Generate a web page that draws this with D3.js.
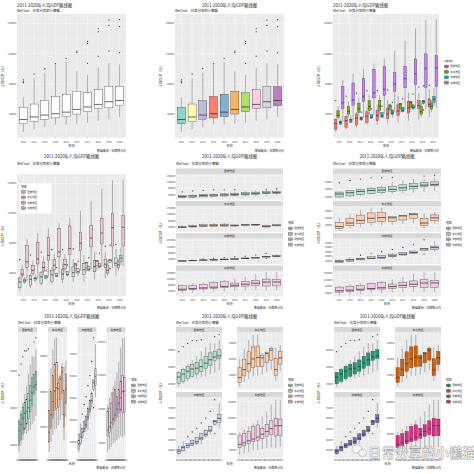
<!DOCTYPE html>
<html><head><meta charset="utf-8">
<script src="https://cdn.jsdelivr.net/npm/d3@7"></script>
<style>html,body{margin:0;padding:0;background:#fff}svg{display:block}text{font-family:"Noto Sans CJK SC","Noto Sans",sans-serif}</style>
</head><body><svg id="c" width="474" height="474"></svg>
<script>
// ---------------- data ----------------
const years = ["2011","2012","2013","2014","2015","2016","2017","2018","2019","2020"];
const regions = ["西部地区","东北地区","中部地区","东部地区"];
const provinces = ["北京","天津","河北","山西","内蒙古","辽宁","吉林","黑龙江","上海","江苏","浙江","安徽","福建","江西","山东","河南","湖北","湖南","广东","广西","海南","重庆","四川","贵州","云南","西藏","陕西","甘肃","青海","宁夏","新疆"];
const provinceRegion = ["东部地区","东部地区","东部地区","中部地区","西部地区","东北地区","东北地区","东北地区","东部地区","东部地区","东部地区","中部地区","东部地区","中部地区","东部地区","中部地区","中部地区","中部地区","东部地区","西部地区","东部地区","西部地区","西部地区","西部地区","西部地区","西部地区","西部地区","西部地区","西部地区","西部地区","西部地区"];
// per-capita GDP (yuan), province order as above
const gdp2011 = [81658,85213,33969,31357,57974,50760,38460,32819,82560,62290,59249,25659,47377,26150,47335,28661,34197,29880,50807,25326,28898,34500,26133,16413,19265,20077,33464,19595,29522,33043,30087];
const gdp2012 = [87475,93173,36584,33628,63886,56649,43415,35711,85373,68347,63374,28792,52763,28800,51768,31499,38572,33480,54095,27952,32377,38914,29608,19710,22195,22936,38564,21978,33181,36394,33796];
const gdp2013 = [94648,100105,38909,34984,67836,61996,47191,37697,90993,75354,68805,31684,57856,31771,56323,34211,42826,36763,58540,30588,35317,42795,32617,22922,25083,26068,42692,24296,36875,39613,37553];
const gdp2014 = [106700,105231,39984,35070,71046,65201,50160,39226,104900,81874,73002,34425,63472,34674,60879,37072,47145,40271,63469,33090,38924,47850,35128,26437,27264,29252,46929,26433,39671,41834,40648];
const gdp2015 = [113700,107960,40255,34919,71101,65354,51086,39462,109200,87995,77644,35997,67966,36724,64168,39123,50654,42754,67503,35190,40818,52321,36775,29847,28806,31999,47626,26165,41252,43805,40036];
const gdp2016 = [123400,88000,43062,35532,72064,50791,53868,40432,121400,96887,84916,39561,74707,40400,68733,42575,55665,46382,74016,38027,44347,58502,40003,33246,31093,35184,51015,27643,43531,47194,40564];
const gdp2017 = [136200,91000,45387,42060,63764,53527,54838,41916,133500,107150,92057,43401,82677,43424,72807,46674,60199,49558,80932,38102,48430,63442,44651,37956,34221,39267,57266,28497,44047,50765,44941];
const gdp2018 = [153095,95689,47772,45328,68302,58008,55611,43274,148744,116650,101813,47712,91197,47434,76267,50152,66616,52949,86412,41489,51955,65933,48883,41244,37136,43398,63477,31336,47689,54094,49475];
const gdp2019 = [164220,90371,46348,45724,67852,57191,43475,36183,157279,123607,107624,58496,107139,53164,70653,56388,77387,57540,94172,42964,56507,75828,55774,46433,47944,48902,66649,32995,48981,54217,54280];
const gdp2020 = [164889,101614,48564,50528,72062,58872,50800,42635,155768,121231,100620,63426,105818,56871,72151,55435,74440,62900,88210,44309,55131,78170,58126,46267,51975,52345,66292,35995,50819,54528,53593];
const gdpByYear = [gdp2011,gdp2012,gdp2013,gdp2014,gdp2015,gdp2016,gdp2017,gdp2018,gdp2019,gdp2020];

const titleText = "2011-2020年人均GDP箱线图";
const subtitleText = "WeChat：日常分享的小懒猫";
const yTitleText = "人均GDP（元）";
const xTitleText = "年份";
const captionText = "数据来源：国家统计局";
const watermarkText = "日常分享的小懒猫";

const set3 = ["#8DD3C7","#FFFFB3","#BEBADA","#FB8072","#80B1D3","#FDB462","#B3DE69","#FCCDE5","#D9D9D9","#BC80BD"];
const hue4 = ["#F8766D","#7CAE00","#00BFC4","#C77CFF"];
const soft4 = ["#C9E2CD","#F2C6C2","#CED4E4","#EAC6DB"];
const pastel2 = ["#B3E2CD","#FDCDAC","#CBD5E8","#F4CAE4"];
const dark2 = ["#1B9E77","#D95F02","#7570B3","#E7298A"];

// ---------------- helpers ----------------
const rows = [];
years.forEach((yr, yi) => provinces.forEach((p, pi) => rows.push({year: yr, province: p, region: provinceRegion[pi], value: gdpByYear[yi][pi]})));

function boxStats(vals) {
  const s = vals.slice().sort((a, b) => a - b);
  const q1 = d3.quantileSorted(s, 0.25), med = d3.quantileSorted(s, 0.5), q3 = d3.quantileSorted(s, 0.75);
  const iqr = q3 - q1, lo = q1 - 1.5 * iqr, hi = q3 + 1.5 * iqr;
  const inside = s.filter(v => v >= lo && v <= hi);
  return {q1, med, q3, wlo: d3.min(inside), whi: d3.max(inside), out: s.filter(v => v < lo || v > hi)};
}

function extendedBreaks(dmin, dmax, m = 5) {
  const Q = [1, 5, 2, 2.5, 4, 3], w = [0.25, 0.2, 0.5, 0.05], n = Q.length, eps = 1e-10;
  let best = {score: -2};
  const simp = (i, j, lmin, lmax, lstep) => { const r = ((lmin % lstep) + lstep) % lstep; const v = ((r < eps * lstep || lstep - r < eps * lstep) && lmin <= 0 && lmax >= 0) ? 1 : 0; return 1 - i / (n - 1) - j + v; };
  const simpMax = (i, j) => 2 - i / (n - 1) - j;
  const cov = (lmin, lmax) => { const r = dmax - dmin; return 1 - 0.5 * ((dmax - lmax) ** 2 + (dmin - lmin) ** 2) / ((0.1 * r) ** 2); };
  const covMax = span => { const r = dmax - dmin; if (span > r) { const h = (span - r) / 2; return 1 - 0.5 * (2 * h * h) / ((0.1 * r) ** 2); } return 1; };
  const dens = (k, lmin, lmax) => { const r = (k - 1) / (lmax - lmin); const rt = (m - 1) / (Math.max(lmax, dmax) - Math.min(dmin, lmin)); return 2 - Math.max(r / rt, rt / r); };
  const densMax = k => k >= m ? 2 - (k - 1) / (m - 1) : 1;
  let j = 1;
  outer: while (j < 30) {
    for (let i = 0; i < n; i++) {
      const q = Q[i], sm = simpMax(i, j);
      if (w[0] * sm + w[1] + w[2] + w[3] < best.score) break outer;
      let k = 2;
      while (k < 60) {
        const dm = densMax(k);
        if (w[0] * sm + w[1] + w[2] * dm + w[3] < best.score) break;
        const delta = (dmax - dmin) / (k + 1) / j / q;
        let z = Math.ceil(Math.log10(delta));
        let guard = 0;
        while (guard++ < 40) {
          const step = j * q * Math.pow(10, z);
          const cm = covMax(step * (k - 1));
          if (w[0] * sm + w[1] * cm + w[2] * dm + w[3] < best.score) break;
          const minStart = Math.floor(dmax / step) * j - (k - 1) * j;
          const maxStart = Math.ceil(dmin / step) * j;
          if (minStart <= maxStart) {
            for (let s = minStart; s <= maxStart; s++) {
              const lmin = s * (step / j), lmax = lmin + step * (k - 1);
              const score = w[0] * simp(i, j, lmin, lmax, step) + w[1] * cov(lmin, lmax) + w[2] * dens(k, lmin, lmax) + w[3];
              if (score > best.score) best = {score, lmin, lmax, lstep: step};
            }
          }
          z++;
        }
        k++;
      }
    }
    j++;
  }
  const out = [];
  for (let v = best.lmin; v <= best.lmax + best.lstep * 1e-9; v += best.lstep) out.push(Math.round(v));
  return out.filter(v => v >= dmin - 1e-6 && v <= dmax + 1e-6);
}

const svg = d3.select("#c");
svg.append("rect").attr("width", 474).attr("height", 474).attr("fill", "#fff");
const fmt = d3.format("d");
const OUT = "#333333";

function txt(g, x, y, s, size, anchor, fill, extra) {
  const t = g.append("text").attr("x", x).attr("y", y).attr("font-size", size).attr("text-anchor", anchor || "start").attr("fill", fill || "#1a1a1a").text(s);
  if (extra) extra(t);
  return t;
}

function drawBox(g, st, cx, bw, y, fill) {
  g.append("line").attr("x1", cx).attr("x2", cx).attr("y1", y(st.q3)).attr("y2", y(st.whi)).attr("stroke", OUT).attr("stroke-width", 0.35);
  g.append("line").attr("x1", cx).attr("x2", cx).attr("y1", y(st.q1)).attr("y2", y(st.wlo)).attr("stroke", OUT).attr("stroke-width", 0.35);
  g.append("rect").attr("x", cx - bw / 2).attr("width", bw).attr("y", y(st.q3)).attr("height", Math.max(0.3, y(st.q1) - y(st.q3)))
    .attr("fill", fill).attr("stroke", OUT).attr("stroke-width", 0.35);
  g.append("line").attr("x1", cx - bw / 2).attr("x2", cx + bw / 2).attr("y1", y(st.med)).attr("y2", y(st.med)).attr("stroke", OUT).attr("stroke-width", 0.75);
  st.out.forEach(v => g.append("circle").attr("cx", cx).attr("cy", y(v)).attr("r", 0.65).attr("fill", OUT));
}

function drawFacet(g, f, spec) {
  const vals = f.data.map(d => d.value);
  const lim = f.ylimits || d3.extent(vals);
  const pad = (lim[1] - lim[0]) * 0.05;
  const y = d3.scaleLinear().domain([lim[0] - pad, lim[1] + pad]).range([f.y1, f.y0]);
  const x = d3.scalePoint().domain(years).range([f.x0, f.x1]).padding(0.6);
  const step = x.step();
  if (f.strip) {
    g.append("rect").attr("x", f.x0).attr("y", f.strip[0]).attr("width", f.x1 - f.x0).attr("height", f.strip[1] - f.strip[0]).attr("fill", "#D9D9D9");
    txt(g, (f.x0 + f.x1) / 2, (f.strip[0] + f.strip[1]) / 2 + 1.0, f.strip[2], 2.8, "middle", "#1a1a1a");
  }
  g.append("rect").attr("x", f.x0).attr("y", f.y0).attr("width", f.x1 - f.x0).attr("height", f.y1 - f.y0).attr("fill", "#EBEBEB");
  const br = extendedBreaks(lim[0], lim[1]);
  const bstep = br.length > 1 ? br[1] - br[0] : (lim[1] - lim[0]);
  const dom = y.domain();
  for (let v = br[0] - bstep / 2; v <= dom[1]; v += bstep) {
    if (v >= dom[0] && v <= dom[1]) g.append("line").attr("x1", f.x0).attr("x2", f.x1).attr("y1", y(v)).attr("y2", y(v)).attr("stroke", "#fff").attr("stroke-width", 0.2);
  }
  br.forEach(v => {
    g.append("line").attr("x1", f.x0).attr("x2", f.x1).attr("y1", y(v)).attr("y2", y(v)).attr("stroke", "#fff").attr("stroke-width", 0.4);
    g.append("line").attr("x1", f.x0 - 0.7).attr("x2", f.x0).attr("y1", y(v)).attr("y2", y(v)).attr("stroke", "#333").attr("stroke-width", 0.3);
    txt(g, f.x0 - 1.1, y(v) + 0.9, fmt(v), 2.5, "end", "#4d4d4d");
  });
  years.forEach(yr => {
    g.append("line").attr("x1", x(yr)).attr("x2", x(yr)).attr("y1", f.y0).attr("y2", f.y1).attr("stroke", "#fff").attr("stroke-width", 0.4);
  });
  if (f.xlabels) {
    years.forEach(yr => {
      g.append("line").attr("x1", x(yr)).attr("x2", x(yr)).attr("y1", f.y1).attr("y2", f.y1 + 0.7).attr("stroke", "#333").attr("stroke-width", 0.3);
      txt(g, x(yr), spec.xLabY, yr, 2.5, "middle", "#4d4d4d");
    });
  }
  years.forEach((yr, yi) => {
    if (spec.mode === "year") {
      const st = boxStats(f.data.filter(d => d.year === yr).map(d => d.value));
      drawBox(g, st, x(yr), step * spec.bw, y, spec.fillYear ? spec.fillYear(yi) : f.fill);
    } else {
      regions.forEach((rg, ri) => {
        const sub = f.data.filter(d => d.year === yr && d.region === rg).map(d => d.value);
        const slot = 0.9 / regions.length * step;
        const cx = x(yr) + (ri - (regions.length - 1) / 2) * slot;
        drawBox(g, boxStats(sub), cx, slot * 1.05, y, spec.colors[ri]);
      });
    }
  });
}

function drawLegend(g, lg, colors) {
  if (lg.bg) g.append("rect").attr("x", lg.x - 1.5).attr("y", lg.y - 4).attr("width", 32).attr("height", 30).attr("fill", "#fff");
  txt(g, lg.x, lg.y, lg.title, 3.0, "start", "#1a1a1a");
  regions.forEach((rg, i) => {
    const ky = lg.y + 2 + i * 5.4, kx = lg.x;
    g.append("rect").attr("x", kx).attr("y", ky).attr("width", 5).attr("height", 5).attr("fill", "#F2F2F2");
    g.append("line").attr("x1", kx + 2.5).attr("x2", kx + 2.5).attr("y1", ky + 0.3).attr("y2", ky + 4.7).attr("stroke", OUT).attr("stroke-width", 0.3);
    g.append("rect").attr("x", kx + 0.6).attr("y", ky + 1.2).attr("width", 3.8).attr("height", 2.6).attr("fill", colors[i]).attr("stroke", OUT).attr("stroke-width", 0.3);
    g.append("line").attr("x1", kx + 0.6).attr("x2", kx + 4.4).attr("y1", ky + 2.5).attr("y2", ky + 2.5).attr("stroke", OUT).attr("stroke-width", 0.45);
    txt(g, kx + 6.3, ky + 3.4, rg, 2.5, "start", "#1a1a1a");
  });
}

function drawChart(spec) {
  const g = svg.append("g");
  const px0 = d3.min(spec.facets, f => f.x0), px1 = d3.max(spec.facets, f => f.x1);
  const py0 = d3.min(spec.facets, f => f.strip ? f.strip[0] : f.y0), py1 = d3.max(spec.facets, f => f.y1);
  if (spec.titleAlign === "middle") txt(g, (px0 + px1) / 2, spec.titleY, titleText, 4.3, "middle", "#1a1a1a");
  else txt(g, px0, spec.titleY, titleText, 4.3, "start", "#1a1a1a");
  txt(g, px0, spec.subY, subtitleText, 3.4, "start", "#1a1a1a");
  spec.facets.forEach(f => drawFacet(g, f, spec));
  txt(g, (px0 + px1) / 2, spec.xTitleY, xTitleText, 3.3, "middle", "#1a1a1a");
  txt(g, spec.yTitleX, (py0 + py1) / 2, yTitleText, 3.3, "middle", "#1a1a1a", t => t.attr("transform", `rotate(-90,${spec.yTitleX},${(py0 + py1) / 2})`));
  txt(g, px1, spec.capY, captionText, 2.9, "end", "#1a1a1a");
  if (spec.legend) drawLegend(g, spec.legend, spec.colors);
  return g;
}

const rowY = [
  {titleY: 6.8, subY: 11.9, xLabY: 142.7, xTitleY: 146.6, capY: 151.9},
  {titleY: 157.5, subY: 164.6, xLabY: 301.0, xTitleY: 304.5, capY: 309.4},
  {titleY: 317.5, subY: 324.0, xLabY: 461.2, xTitleY: 464.9, capY: 468.9}
];
const allLim = d3.extent(rows, d => d.value);
const byRegion = rg => rows.filter(d => d.region === rg);

// Row 1
drawChart({...rowY[0], titleAlign: "start", yTitleX: 4.5, mode: "year", bw: 0.75, fillYear: () => "#ffffff",
  facets: [{x0: 17, x1: 126, y0: 14, y1: 137.7, data: rows, xlabels: true}]});
drawChart({...rowY[0], titleAlign: "middle", yTitleX: 162.5, mode: "year", bw: 0.75, fillYear: i => set3[i],
  facets: [{x0: 175, x1: 284, y0: 14, y1: 137.7, data: rows, xlabels: true}]});
drawChart({...rowY[0], titleAlign: "start", yTitleX: 320.5, mode: "dodge", colors: hue4,
  legend: {x: 444, y: 62, title: "region"},
  facets: [{x0: 333, x1: 439, y0: 14, y1: 137.7, data: rows, xlabels: true}]});

// Row 2
drawChart({...rowY[1], titleAlign: "middle", yTitleX: 4.5, mode: "dodge", colors: soft4,
  legend: {x: 21, y: 187.5, title: "地区", bg: true},
  facets: [{x0: 17, x1: 126, y0: 174.3, y1: 296, data: rows, xlabels: true}]});
function stackFacets(x0, x1, fixed) {
  return regions.map((rg, i) => {
    const s0 = 168.5 + i * 32.3;
    return {x0, x1, strip: [s0, s0 + 5.5, rg], y0: s0 + 5.5, y1: s0 + 31, data: byRegion(rg), xlabels: i === 3, fill: pastel2[i], ylimits: fixed ? allLim : null};
  });
}
drawChart({...rowY[1], titleAlign: "middle", yTitleX: 162.5, mode: "year", bw: 0.75, colors: pastel2,
  legend: {x: 288, y: 224, title: "地区"}, facets: stackFacets(176, 283, true)});
drawChart({...rowY[1], titleAlign: "middle", yTitleX: 320.5, mode: "year", bw: 0.75, colors: pastel2,
  legend: {x: 446, y: 224, title: "地区"}, facets: stackFacets(333, 441, false)});

// Row 3
const rowFacetX = [18, 48, 77.5, 106.5];
drawChart({...rowY[2], titleAlign: "middle", yTitleX: 4.5, mode: "year", bw: 0.75, colors: pastel2,
  legend: {x: 131, y: 381, title: "地区"},
  facets: regions.map((rg, i) => ({x0: rowFacetX[i], x1: rowFacetX[i] + 19, strip: [327, 332, rg], y0: 332, y1: 457.7, data: byRegion(rg), xlabels: true, fill: pastel2[i]}))});
function gridFacets(cx0, colors) {
  return regions.map((rg, i) => {
    const r = Math.floor(i / 2), c = i % 2;
    const x0 = cx0[c], s0 = [327, 392][r];
    return {x0, x1: x0 + 46, strip: [s0, s0 + 5, rg], y0: s0 + 5, y1: [389.3, 457.7][r], data: byRegion(rg), xlabels: r === 1, fill: colors[i]};
  });
}
drawChart({...rowY[2], titleAlign: "middle", yTitleX: 162.5, mode: "year", bw: 0.75, colors: pastel2,
  legend: {x: 288, y: 381, title: "地区"}, facets: gridFacets([176, 237], pastel2)});
drawChart({...rowY[2], titleAlign: "middle", yTitleX: 320.5, mode: "year", bw: 0.75, colors: dark2,
  legend: {x: 446, y: 381, title: "地区"}, facets: gridFacets([334, 395], dark2)});

// watermark
const wm = svg.append("g").attr("opacity", 0.85);
wm.append("ellipse").attr("cx", 357).attr("cy", 449).attr("rx", 5).attr("ry", 4.2).attr("fill", "rgba(255,255,255,0.6)").attr("stroke", "#9a9a9a").attr("stroke-width", 0.6);
wm.append("ellipse").attr("cx", 362.5).attr("cy", 453).attr("rx", 4).attr("ry", 3.4).attr("fill", "rgba(255,255,255,0.6)").attr("stroke", "#9a9a9a").attr("stroke-width", 0.6);
txt(wm, 368, 457.5, watermarkText, 13.5, "start", "rgba(255,255,255,0.75)", t => t.attr("stroke", "#9a9a9a").attr("stroke-width", 0.55).attr("font-weight", "bold"));
</script></body></html>
